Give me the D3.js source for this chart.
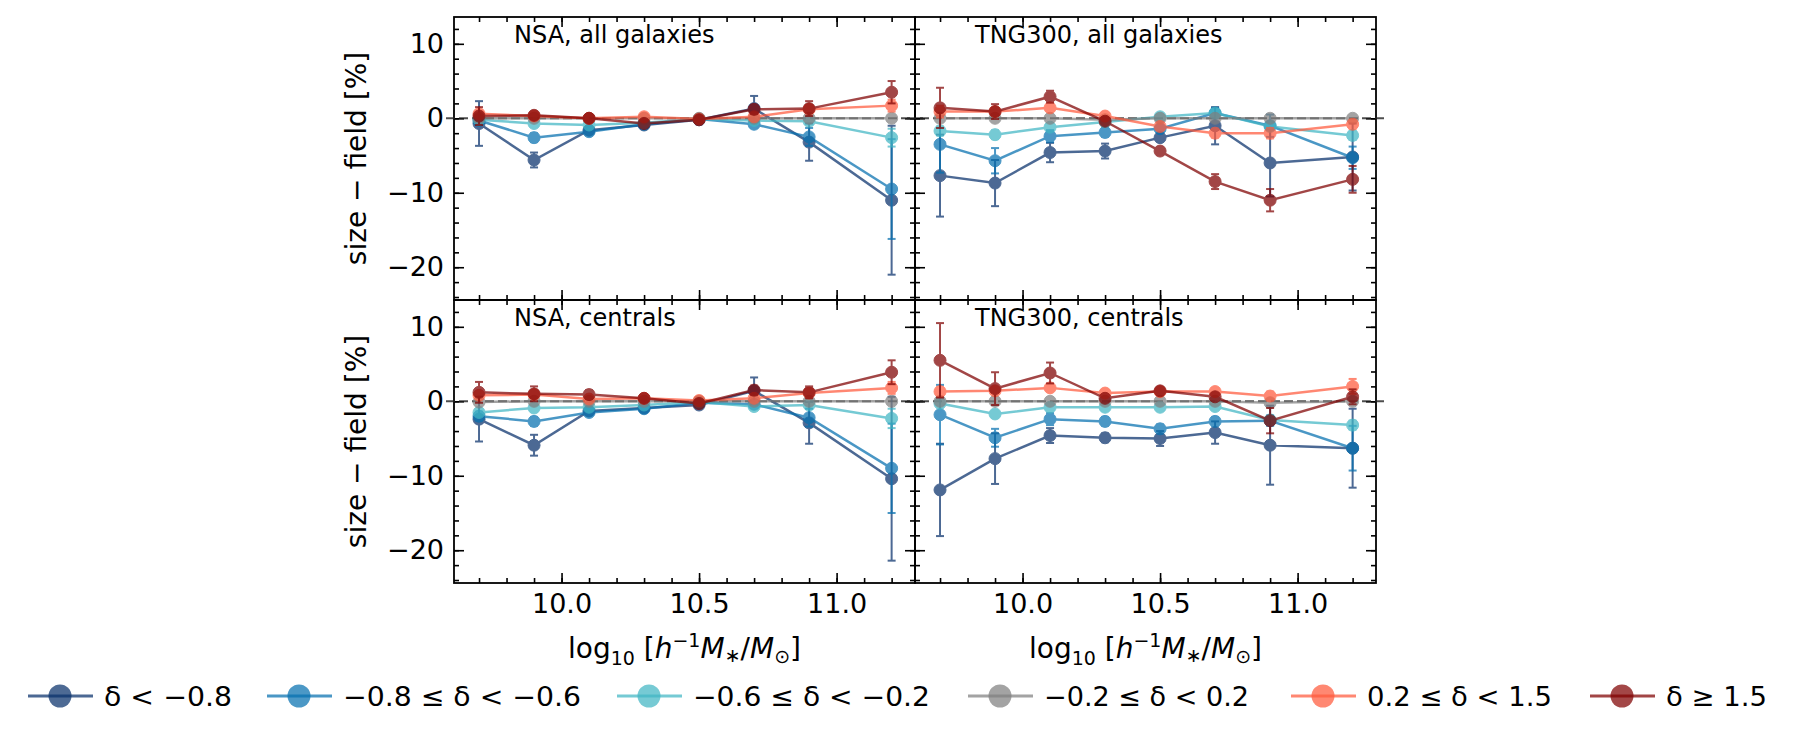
<!DOCTYPE html>
<html><head><meta charset="utf-8">
<script src="https://cdn.jsdelivr.net/npm/d3@7"></script>
<style>body{margin:0;background:#fff}text{font-family:"DejaVu Sans",sans-serif}</style>
</head><body><div id="chart"></div>
<script>
// bin centres of log10 stellar mass
var massBins = [9.7, 9.9, 10.1, 10.3, 10.5, 10.7, 10.9, 11.2];
var xTicks = [10.0, 10.5, 11.0];
var yTicks = [10, 0, -10, -20];
var seriesNames = ["δ < −0.8", "−0.8 ≤ δ < −0.6", "−0.6 ≤ δ < −0.2", "−0.2 ≤ δ < 0.2", "0.2 ≤ δ < 1.5", "δ ≥ 1.5"];
var seriesColors = ["#08306b", "#0570b0", "#41b6c4", "#808080", "#ff5a3c", "#7f0000"];
var panelTitles = ["NSA, all galaxies", "TNG300, all galaxies", "NSA, centrals", "TNG300, centrals"];

// values [%] per panel, one row per density bin
var nsaAll = [
  [-0.7,-5.6,-1.6,-0.9,-0.2,1.3,-3.2,-11.0],
  [-0.3,-2.6,-1.8,-0.8,-0.1,-0.8,-2.5,-9.5],
  [-0.2,-0.7,-0.9,-0.6,-0.1,-0.3,-0.4,-2.6],
  [0,0,0,0,0,0,0,0],
  [0.6,0.3,0,0.2,-0.1,0.2,1.2,1.7],
  [0.3,0.4,0,-0.7,-0.2,1.2,1.3,3.5]];
var nsaAllErr = [
  [3,1,0.5,0.5,0.6,1.7,2.5,10],
  [0.6,0.6,0.5,0.4,0.4,0.5,1.2,6.7],
  [0.4,0.3,0.3,0.3,0.3,0.3,0.5,1.2],
  [0.2,0.2,0.2,0.2,0.2,0.2,0.2,0.2],
  [0.5,0.3,0.3,0.3,0.3,0.4,0.5,0.8],
  [1.2,0.5,0.4,0.4,0.4,0.6,1,1.5]];
var tngAll = [
  [-7.7,-8.7,-4.6,-4.4,-2.6,-1.0,-6.0,-5.2],
  [-3.5,-5.7,-2.4,-1.9,-1.4,0.7,-1.0,-5.3],
  [-1.7,-2.2,-1.2,-0.5,0.2,0.7,-1.1,-2.3],
  [0,0,0,-0.2,0,0,0,0],
  [0.9,0.9,1.4,0.3,-1.1,-2.0,-2.0,-0.8],
  [1.4,0.9,2.9,-0.4,-4.4,-8.5,-11.0,-8.2]];
var tngAllErr = [
  [5.5,3.1,1.3,1,0.5,2.5,4.5,4.5],
  [3.8,1.7,0.8,0.6,0.4,0.7,1.5,1.5],
  [0.6,0.6,0.4,0.3,0.3,0.4,0.5,0.6],
  [0.2,0.2,0.2,0.2,0.2,0.2,0.2,0.2],
  [0.8,0.5,0.4,0.4,0.4,0.6,0.7,0.6],
  [2.7,1,0.8,0.4,0.5,1,1.5,1.8]];
var nsaCen = [
  [-2.4,-5.9,-1.3,-0.9,-0.5,1.4,-2.9,-10.4],
  [-2.0,-2.7,-1.5,-1.0,-0.2,-0.4,-2.2,-9.0],
  [-1.5,-0.9,-0.8,-0.5,-0.1,-0.7,-0.5,-2.3],
  [-0.1,0,0,0,0,0,0,0],
  [0.8,0.9,0.3,0.4,0.1,0.4,1.1,1.8],
  [1.2,1.0,0.9,0.4,-0.3,1.5,1.2,3.9]];
var nsaCenErr = [
  [3,1.4,0.5,0.5,0.5,1.8,2.8,11],
  [0.6,0.6,0.5,0.4,0.4,0.5,1.2,6],
  [0.4,0.3,0.3,0.3,0.3,0.4,0.5,1.3],
  [0.2,0.2,0.2,0.2,0.2,0.2,0.2,0.2],
  [0.5,0.4,0.3,0.3,0.3,0.4,0.5,0.8],
  [1.4,1,0.6,0.4,0.4,0.6,0.8,1.6]];
var tngCen = [
  [-11.9,-7.7,-4.6,-4.9,-5.0,-4.2,-5.9,-6.3],
  [-1.8,-4.9,-2.4,-2.7,-3.7,-2.7,-2.6,-6.3],
  [-0.3,-1.7,-0.8,-0.8,-0.8,-0.7,-2.5,-3.2],
  [0,0,0,0,0,0,-0.2,0],
  [1.3,1.4,1.8,1.1,1.3,1.3,0.7,2.0],
  [5.5,1.7,3.8,0.4,1.4,0.6,-2.6,0.6]];
var tngCenErr = [
  [6.2,3.4,1,0.6,1,1.5,5.3,5.3],
  [4,1.2,0.8,0.6,0.6,0.6,0.7,3],
  [0.5,0.4,0.3,0.3,0.3,0.3,0.5,0.6],
  [0.2,0.2,0.2,0.2,0.2,0.2,0.2,0.2],
  [0.6,0.4,0.4,0.4,0.4,0.4,0.6,1],
  [5,2.2,1.4,0.4,0.5,0.5,1.7,1]];

var panels = [
  {vals: nsaAll, errs: nsaAllErr, col: 0, row: 0},
  {vals: tngAll, errs: tngAllErr, col: 1, row: 0},
  {vals: nsaCen, errs: nsaCenErr, col: 0, row: 1},
  {vals: tngCen, errs: tngCenErr, col: 1, row: 1}];

var W = 1801, H = 744;
var left0 = 454, pw = 461, top0 = 17, ph = 283;

var svg = d3.select("#chart").append("svg").attr("width", W).attr("height", H);

var x = d3.scaleLinear().domain([9.609, 11.285]).range([0, pw]);
var y = d3.scaleLinear().domain([-24.4, 13.6]).range([ph, 0]);

panels.forEach(function(p, k) {
  var g = svg.append("g").attr("transform", "translate(" + (left0 + p.col * pw) + "," + (top0 + p.row * ph) + ")");

  // ticks, inward on all sides
  var xm = d3.range(9.7, 11.29, 0.1).map(function(v) { return +v.toFixed(1); });
  var ym = d3.range(-24, 13.7, 2);
  g.append("g").attr("transform", "translate(0," + ph + ")").call(d3.axisBottom(x).tickValues(xm).tickSize(-5).tickFormat(""));
  g.append("g").call(d3.axisTop(x).tickValues(xm).tickSize(-5).tickFormat(""));
  g.append("g").call(d3.axisLeft(y).tickValues(ym).tickSize(-5).tickFormat(""));
  g.append("g").attr("transform", "translate(" + pw + ",0)").call(d3.axisRight(y).tickValues(ym).tickSize(-5).tickFormat(""));
  g.append("g").attr("transform", "translate(0," + ph + ")")
    .call(d3.axisBottom(x).tickValues(xTicks).tickSize(-10).tickFormat(p.row == 1 ? d3.format(".1f") : ""))
    .selectAll("text").attr("y", 30).attr("dy", 0);
  g.append("g").call(d3.axisTop(x).tickValues(xTicks).tickSize(-10).tickFormat(""));
  g.append("g").call(d3.axisLeft(y).tickValues(yTicks).tickSize(-10).tickFormat(p.col == 0 ? function(d) { return d < 0 ? "−" + (-d) : d; } : ""))
    .selectAll("text").attr("x", -10);
  g.append("g").attr("transform", "translate(" + pw + ",0)").call(d3.axisRight(y).tickValues(yTicks).tickSize(-10).tickFormat(""));
  g.selectAll(".domain").remove();
  g.selectAll(".tick line").attr("stroke", "#000").attr("stroke-width", 1.6);
  g.selectAll(".tick text").attr("font-size", 27).attr("fill", "#000").style("font-family", "DejaVu Sans");

  g.append("rect").attr("width", pw).attr("height", ph).attr("fill", "none").attr("stroke", "#000").attr("stroke-width", 1.8);

  g.append("line").attr("x1", -8).attr("x2", pw + 8).attr("y1", y(0)).attr("y2", y(0))
    .attr("stroke", "#222").attr("stroke-opacity", 0.8).attr("stroke-width", 2).attr("stroke-dasharray", "9,4");

  var line = d3.line().x(function(d, i) { return x(massBins[i]); }).y(function(d) { return y(d); });

  p.vals.forEach(function(vs, s) {
    var c = seriesColors[s];
    var sg = g.append("g").attr("opacity", 0.72);
    sg.append("path").attr("d", line(vs)).attr("fill", "none").attr("stroke", c).attr("stroke-width", 2.5);
    vs.forEach(function(v, i) {
      var e = p.errs[s][i], cx = x(massBins[i]);
      sg.append("line").attr("x1", cx).attr("x2", cx).attr("y1", y(v - e)).attr("y2", y(v + e)).attr("stroke", c).attr("stroke-width", 2);
      [v - e, v + e].forEach(function(b) {
        sg.append("line").attr("x1", cx - 4).attr("x2", cx + 4).attr("y1", y(b)).attr("y2", y(b)).attr("stroke", c).attr("stroke-width", 2);
      });
      sg.append("circle").attr("cx", cx).attr("cy", y(v)).attr("r", 6).attr("fill", c).attr("stroke", c).attr("stroke-width", 1);
    });
  });

  g.append("text").attr("x", 60).attr("y", 26).attr("font-size", 24).text(panelTitles[k]);
});

// axis labels
[0, 1].forEach(function(c) {
  var cx = left0 + c * pw + pw / 2;
  var t = svg.append("text").attr("x", cx).attr("y", 658).attr("text-anchor", "middle").attr("font-size", 28);
  t.append("tspan").text("log");
  t.append("tspan").attr("font-size", 19).attr("dy", 7).text("10");
  t.append("tspan").attr("dy", -7).text(" [");
  t.append("tspan").attr("font-style", "italic").text("h");
  t.append("tspan").attr("font-size", 19).attr("dy", -11).text("−1");
  t.append("tspan").attr("dy", 11).attr("font-style", "italic").text("M");
  t.append("tspan").attr("font-size", 19).attr("dy", 4).text("∗");
  t.append("tspan").attr("dy", -4).text("/");
  t.append("tspan").attr("font-style", "italic").text("M");
  t.append("tspan").attr("font-size", 19).attr("dy", 5).text("⊙");
  t.append("tspan").attr("dy", -5).text("]");
});
[0, 1].forEach(function(r) {
  svg.append("text").attr("transform", "translate(366," + (top0 + r * ph + ph / 2) + ") rotate(-90)")
    .attr("text-anchor", "middle").attr("font-size", 28).text("size − field [%]");
});

// legend
var legX = [28, 267, 617, 968, 1291, 1590];
var legW = [128, 238, 237, 205, 185, 101];
var leg = svg.append("g").attr("transform", "translate(0,696)");
seriesNames.forEach(function(n, s) {
  var lg = leg.append("g").attr("transform", "translate(" + legX[s] + ",0)");
  lg.append("line").attr("x1", 0).attr("x2", 65).attr("stroke", seriesColors[s]).attr("stroke-width", 3).attr("opacity", 0.72);
  lg.append("circle").attr("cx", 32).attr("r", 11.5).attr("fill", seriesColors[s]).attr("opacity", 0.72);
  lg.append("text").attr("x", 76).attr("y", 10).attr("font-size", 27)
    .attr("textLength", legW[s]).attr("lengthAdjust", "spacingAndGlyphs").text(n);
});
</script></body></html>
